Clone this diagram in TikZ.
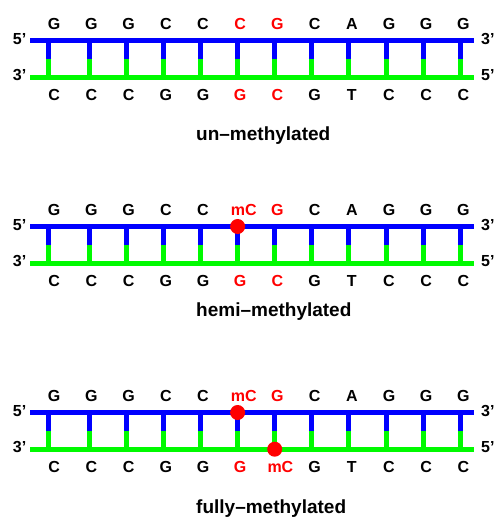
\documentclass[tikz,border=0pt]{standalone}
\usepackage{fontspec}
\setmainfont{Liberation Sans}
\definecolor{strandblue}{RGB}{0,0,255}
\definecolor{strandgreen}{RGB}{0,250,0}
\definecolor{mred}{RGB}{255,0,0}
\tikzset{
  base/.style={font=\fontsize{16}{19}\selectfont\bfseries, inner sep=0pt, anchor=base},
  endlabel/.style={font=\fontsize{16}{19}\selectfont\bfseries, inner sep=0pt},
  caption/.style={font=\fontsize{19}{22}\selectfont\bfseries, inner sep=0pt, anchor=base west},
  bluestrand/.style={draw=strandblue, line width=5pt},
  greenstrand/.style={draw=strandgreen, line width=5pt},
  rungtop/.style={draw=strandblue, line width=5pt},
  rungbot/.style={draw=strandgreen, line width=5pt},
  methyl/.style={circle, fill=mred, minimum size=15pt, inner sep=0pt},
}
\begin{document}
\begin{tikzpicture}[x=1pt,y=-1pt]
\useasboundingbox (0,0) rectangle (494,518);
\foreach \p/\oy/\lb/\txt in {1/0/141/un–methylated, 2/185.7/316.7/hemi–methylated, 3/371.7/513/fully–methylated} {
  \pgfmathsetmacro\yt{40.8+\oy}
  \pgfmathsetmacro\yb{77.5+\oy}
  \pgfmathsetmacro\ym{(\yt+\yb)/2}
  % strand end points
  \coordinate (s\p-tl) at (30,\yt);
  \coordinate (s\p-tr) at (474,\yt);
  \coordinate (s\p-bl) at (30,\yb);
  \coordinate (s\p-br) at (474,\yb);
  % base-pair rungs
  \foreach \i in {0,...,11} {
    \pgfmathsetmacro\rx{\i==0 ? 48.2 : 89.2+37.1*(\i-1)}
    \coordinate (r\p-\i-t) at (\rx,\yt);
    \coordinate (r\p-\i-m) at (\rx,\ym);
    \coordinate (r\p-\i-b) at (\rx,\yb);
    \draw[rungtop] (r\p-\i-t) -- (r\p-\i-m);
    \draw[rungbot] (r\p-\i-m) -- (r\p-\i-b);
  }
  % backbones
  \draw[bluestrand] (s\p-tl) -- (s\p-tr);
  \draw[greenstrand] (s\p-bl) -- (s\p-br);
  % strand ends
  \node[endlabel, anchor=base east] (e\p-l5) at (26.5,\yt+3.5) {5’};
  \node[endlabel, anchor=base east] (e\p-l3) at (26.5,\yb+3.4) {3’};
  \node[endlabel, anchor=base west] (e\p-r3) at (481,\yt+3.5) {3’};
  \node[endlabel, anchor=base west] (e\p-r5) at (481,\yb+3.4) {5’};
  % bases
  \foreach \i/\tb/\tc/\bb/\bc in {0/G/black/C/black, 1/G/black/C/black, 2/G/black/C/black,
      3/C/black/G/black, 4/C/black/G/black, 5/C/mred/G/mred, 6/G/mred/C/mred,
      7/C/black/G/black, 8/A/black/T/black, 9/G/black/C/black, 10/G/black/C/black, 11/G/black/C/black} {
    \def\toptxt{\tb}\def\topdx{0}
    \def\bottxt{\bb}\def\botdx{0}
    \ifnum\p>1 \ifnum\i=5 \def\toptxt{mC}\def\topdx{3.5}\fi\fi
    \ifnum\p=3 \ifnum\i=6 \def\bottxt{mC}\def\botdx{3}\fi\fi
    \pgfmathsetmacro\lx{54.2+37.2*\i}
    \node[base, text=\tc] (t\p-\i) at (\lx+\topdx,\yt-10.8) {\toptxt};
    \node[base, text=\bc] (b\p-\i) at (\lx+\botdx,\yb+23.2) {\bottxt};
  }
  \node[caption] (cap\p) at (196,\lb) {\txt};
}
% methylation marks
\node[methyl] (m2-top) at (r2-5-t) {};
\node[methyl] (m3-top) at (r3-5-t) {};
\node[methyl] (m3-bot) at (r3-6-b) {};
\end{tikzpicture}
\end{document}
